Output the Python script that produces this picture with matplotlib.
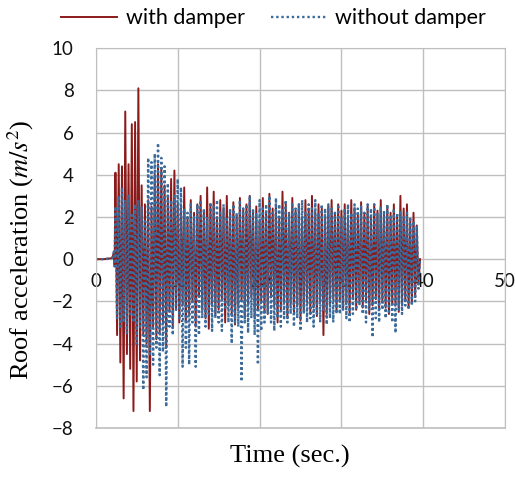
import numpy as np
import matplotlib
matplotlib.use("Agg")
import matplotlib.pyplot as plt

# --- Data (peak values, m/s^2) ---
t_lead = [0.0, 1.0, 2.0, 2.2, 2.3]
t_grid = np.round(np.arange(2.4, 39.61, 0.2), 2)

red_lead = [0.0, 0.0, 0.05, 0.3, -0.3]
blue_lead = [0.0, 0.0, 0.05, 0.35, -0.35]

with_damper = [
    4.1, -3.6, 4.5, -4.9, 4.4, -6.6, 7.0, -4.5, 4.5, -5.2,
    6.4, -7.2, 6.5, -5.8, 8.1, -4.8, 3.5, -3.6, 2.6, -4.0,
    2.8, -7.2, 2.5, -3.2, 4.0, -3.8, 4.5, -3.5, 4.3, -3.0,
    3.5, -4.2, 3.0, -2.5, 3.8, -3.2, 4.2, -2.4, 2.6, -3.0,
    2.4, -2.2, 3.4, -3.0, 2.0, -2.6, 2.8, -2.0, 2.2, -3.2,
    2.6, -1.8, 3.0, -2.4, 2.2, -2.8, 3.4, -3.3, 2.6, -2.2,
    3.2, -2.6, 2.0, -2.4, 2.8, -1.9, 2.4, -3.0, 3.0, -2.2,
    2.2, -2.6, 2.7, -3.1, 2.0, -2.3, 2.9, -2.0, 2.4, -2.7,
    2.6, -2.2, 3.0, -1.8, 2.2, -2.8, 2.5, -2.4, 1.8, -2.0,
    2.9, -2.5, 2.2, -2.6, 3.1, -1.8, 2.4, -2.2, 2.6, -3.0,
    2.0, -2.4, 3.2, -2.0, 2.6, -2.8, 2.2, -2.1, 2.9, -2.5,
    2.3, -2.2, 2.6, -2.9, 2.0, -2.4, 2.8, -2.0, 2.4, -2.6,
    3.0, -2.3, 2.2, -2.7, 2.6, -2.0, 2.4, -3.6, 2.0, -2.6,
    2.5, -2.2, 2.8, -1.9, 2.2, -2.5, 2.6, -2.0, 2.3, -2.3,
    2.6, -2.1, 2.0, -2.6, 2.8, -1.8, 2.4, -2.4, 2.1, -2.0,
    2.7, -2.3, 2.2, -2.0, 2.5, -2.6, 2.0, -2.2, 2.6, -1.9,
    2.3, -2.4, 2.8, -2.0, 2.1, -2.3, 2.5, -2.6, 2.2, -2.1,
    2.6, -2.2, 2.0, -2.5, 3.0, -2.2, 2.4, -2.0, 2.6, -2.3,
    1.8, -2.1, 2.2, -1.8, 1.6, -1.2, 0.0,
]

without_damper = [
    2.5, -2.8, 3.0, -3.2, 3.4, -3.0, 2.8, -3.5, 3.0, -2.6,
    2.2, -3.0, 2.6, -4.0, 2.8, -3.2, 2.5, -6.2, 1.8, -5.6,
    4.8, -4.5, 4.6, -5.0, 5.0, -4.2, 5.5, -5.5, 4.8, -4.4,
    4.4, -7.0, 3.6, -3.2, 2.8, -3.6, 3.0, -2.4, 3.8, -2.8,
    3.4, -5.1, 2.4, -4.2, 2.2, -5.0, 2.6, -3.0, 2.0, -5.1,
    2.6, -3.6, 2.8, -2.8, 2.4, -3.2, 2.0, -2.6, 2.7, -3.4,
    2.5, -2.8, 2.8, -3.0, 2.2, -3.4, 2.6, -2.4, 2.0, -3.0,
    2.4, -4.0, 2.6, -3.0, 2.2, -3.2, 2.8, -5.8, 2.4, -3.0,
    2.6, -3.5, 3.0, -2.8, 2.4, -3.6, 2.2, -5.0, 2.8, -3.4,
    2.4, -3.0, 2.6, -2.6, 3.0, -3.0, 2.2, -3.4, 2.9, -2.8,
    2.6, -3.2, 2.4, -2.8, 2.8, -3.0, 2.2, -2.6, 2.6, -3.2,
    2.4, -2.8, 2.6, -3.4, 2.8, -2.6, 2.2, -3.0, 2.6, -2.8,
    2.4, -3.2, 2.8, -2.6, 2.2, -3.0, 2.6, -2.4, 2.4, -3.1,
    2.6, -2.8, 2.4, -3.0, 2.2, -2.6, 2.6, -2.6, 2.0, -2.4,
    2.4, -2.8, 2.6, -3.0, 2.2, -2.6, 2.6, -2.4, 2.4, -2.2,
    2.5, -2.6, 2.2, -3.0, 2.6, -2.4, 2.4, -3.7, 2.6, -2.8,
    2.2, -3.0, 2.5, -2.4, 2.3, -2.8, 2.6, -2.6, 2.0, -3.0,
    2.4, -3.5, 2.2, -2.4, 2.3, -2.6, 2.0, -2.2, 2.2, -2.4,
    2.0, -2.2, 1.8, -2.0, 1.6, -1.4, 0.0,
]

time = np.concatenate([t_lead, t_grid])
acc_with = np.array(red_lead + with_damper)
acc_without = np.array(blue_lead + without_damper)

x_ticks = [0, 10, 20, 30, 40, 50]
y_ticks = [-8, -6, -4, -2, 0, 2, 4, 6, 8, 10]

grid_c = '#BFBFBF'
tick_font = 'Lato'
plt.rcParams['mathtext.fontset'] = 'stix'

fig = plt.figure(figsize=(5.15, 4.97), dpi=100)
ax = fig.add_axes([0.186, 0.139, 0.795, 0.764])

ax.plot(time, acc_with, color='#8B1A1A', lw=1.4, label='with damper')
ax.plot(time, acc_without, color='#3B6A9A', lw=1.7, linestyle=(0, (1, 1.2)),
        label='without damper')

ax.set_xlim(0, 50)
ax.set_ylim(-8, 10)
ax.set_xticks(x_ticks)
ax.set_yticks(y_ticks)
ax.grid(True, color=grid_c, lw=1)
ax.set_axisbelow(True)

# x labels sit on the zero line, Excel style
ax.spines['bottom'].set_position(('data', 0))
ax.spines['bottom'].set_visible(False)
for s in ['top', 'right', 'left']:
    ax.spines[s].set_color(grid_c)
ax.axhline(-8, color=grid_c, lw=1.2, clip_on=False, zorder=0)
ax.tick_params(length=0, labelsize=13.5, labelcolor='#111111')
ax.tick_params(axis='x', pad=10)
ax.tick_params(axis='y', pad=16)
for lab in ax.get_xticklabels() + ax.get_yticklabels():
    lab.set_fontfamily(tick_font)

ax.set_xlabel('Time (sec.)', fontsize=19, family='Liberation Serif')
ax.xaxis.set_label_coords(0.474, -0.045)
ax.set_ylabel('Roof acceleration ($m/s^2$)', fontsize=19, family='Liberation Serif')
ax.yaxis.set_label_coords(-0.145, 0.47)

leg = ax.legend(loc='lower left', bbox_to_anchor=(-0.105, 1.03), ncol=2, frameon=False,
                prop={'family': tick_font, 'size': 15.5}, handlelength=2.6,
                columnspacing=1.2, borderaxespad=0.0, handletextpad=0.4)

fig.savefig('out.png', dpi=100)
